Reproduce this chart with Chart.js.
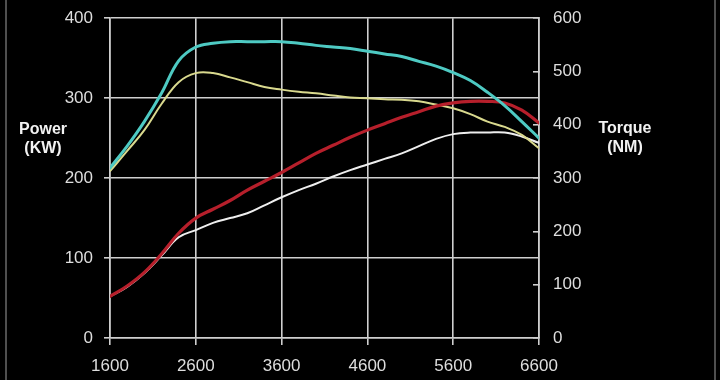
<!DOCTYPE html>
<html>
<head>
<meta charset="utf-8">
<script src="https://cdn.jsdelivr.net/npm/chart.js@4/dist/chart.umd.min.js"></script>
<style>
  html, body { margin: 0; padding: 0; background: #000; }
  #wrap { position: relative; width: 720px; height: 380px; background: #000; overflow: hidden; }
  canvas { position: absolute; left: 0; top: -12px; }
  .title { position: absolute; color: #f2f2f2; font-family: "Liberation Sans", Arial, sans-serif;
           font-weight: bold; font-size: 16px; line-height: 19px; text-align: center; }
</style>
</head>
<body>
<div id="wrap">
  <canvas id="c" width="720" height="392"></canvas>
  <div class="title" style="left:13px; top:119px; width:60px;">Power<br>(KW)</div>
  <div class="title" style="left:590px; top:118px; width:70px;">Torque<br>(NM)</div>
</div>
<script>
// Engine speed (rpm)
const rpm = [1600,1800,2000,2200,2400,2600,2800,3000,3200,3400,3600,3800,4000,4200,4400,4600,4800,5000,5200,5400,5600,5800,6000,6200,6400,6600];
// Torque (NM) - right axis
const torqueTuned = [319,360,406,459,520,546,553,556,556,556,556,553,549,546,543,538,533,528,519,510,498,483,461,436,406,375];
const torqueStock = [313,351,390,439,480,497,497,489,480,471,466,462,459,455,451,450,448,447,444,438,431,420,406,396,381,356];
// Power (KW) - left axis
const powerTuned = [52,65,82,105,131,150,161,172,185,196,207,219,231,241,251,260,268,276,283,290,294,296,296,294,285,269];
const powerStock = [52,64,81,103,126,135,144,150,156,166,176,185,193,202,210,217,224,231,240,249,255,257,257,257,252,244];
// Tick settings
const xTicks = { min: 1600, max: 6600, step: 1000 };
const powerAxis = { min: 0, max: 400, step: 100 };
const torqueAxis = { min: 0, max: 600, step: 100 };

const pts = arr => arr.map((v, i) => ({ x: rpm[i], y: v }));
const gridColor = '#cfcfcf';
const tickFont = { family: '"Liberation Sans", Arial, sans-serif', size: 17 };

const framePlugin = {
  id: 'frame',
  beforeDraw(chart) {
    const ctx = chart.ctx;
    ctx.save();
    ctx.fillStyle = '#000';
    ctx.fillRect(0, 0, chart.width, chart.height);
    ctx.strokeStyle = '#6a6a6a';
    ctx.lineWidth = 1.5;
    ctx.beginPath();
    ctx.moveTo(6, 0); ctx.lineTo(6, chart.height);
    ctx.moveTo(chart.width - 5, 0); ctx.lineTo(chart.width - 5, chart.height);
    ctx.stroke();
    ctx.restore();
  }
};

new Chart(document.getElementById('c'), {
  type: 'line',
  data: {
    datasets: [
      { label: 'Torque tuned', data: pts(torqueTuned), yAxisID: 'yR', borderColor: '#4ecac3', borderWidth: 3 },
      { label: 'Power tuned', data: pts(powerTuned), yAxisID: 'yL', borderColor: '#b61f2b', borderWidth: 3.2 },
      { label: 'Torque stock', data: pts(torqueStock), yAxisID: 'yR', borderColor: '#d9d98e', borderWidth: 2 },
      { label: 'Power stock', data: pts(powerStock), yAxisID: 'yL', borderColor: '#eeeeee', borderWidth: 2 }
    ]
  },
  options: {
    responsive: false,
    animation: false,
    events: [],
    layout: { padding: { top: 6, left: 0, right: 0, bottom: 0 } },
    elements: {
      point: { radius: 0 },
      line: { tension: 0.4, fill: false, borderCapStyle: 'round', borderJoinStyle: 'round' }
    },
    plugins: { legend: { display: false }, tooltip: { enabled: false } },
    scales: {
      x: {
        type: 'linear', position: 'bottom',
        min: xTicks.min, max: xTicks.max,
        afterFit(s) { s.height = 42; },
        afterBuildTicks(s) {
          const t = [];
          for (let v = xTicks.min; v <= xTicks.max; v += xTicks.step) t.push({ value: v });
          s.ticks = t;
        },
        ticks: { color: '#dedede', font: tickFont, padding: 11, maxRotation: 0, autoSkip: false,
                 callback: v => String(v) },
        grid: { color: gridColor, lineWidth: 1.6, tickLength: 7 },
        border: { display: true, color: gridColor, width: 1.6 }
      },
      yL: {
        type: 'linear', position: 'left',
        min: powerAxis.min, max: powerAxis.max,
        afterFit(s) { s.width = 110; },
        ticks: { stepSize: powerAxis.step, color: '#dedede', font: tickFont, padding: 11 },
        grid: { color: gridColor, lineWidth: 1.6, tickLength: 6 },
        border: { display: true, color: gridColor, width: 1.6 }
      },
      yR: {
        type: 'linear', position: 'right',
        min: torqueAxis.min, max: torqueAxis.max,
        afterFit(s) { s.width = 181; },
        ticks: { stepSize: torqueAxis.step, color: '#dedede', font: tickFont, padding: 20 },
        grid: { drawOnChartArea: false, color: gridColor, lineWidth: 1.6, tickLength: -6 },
        border: { display: true, color: gridColor, width: 1.6 }
      }
    }
  },
  plugins: [framePlugin]
});
</script>
</body>
</html>
